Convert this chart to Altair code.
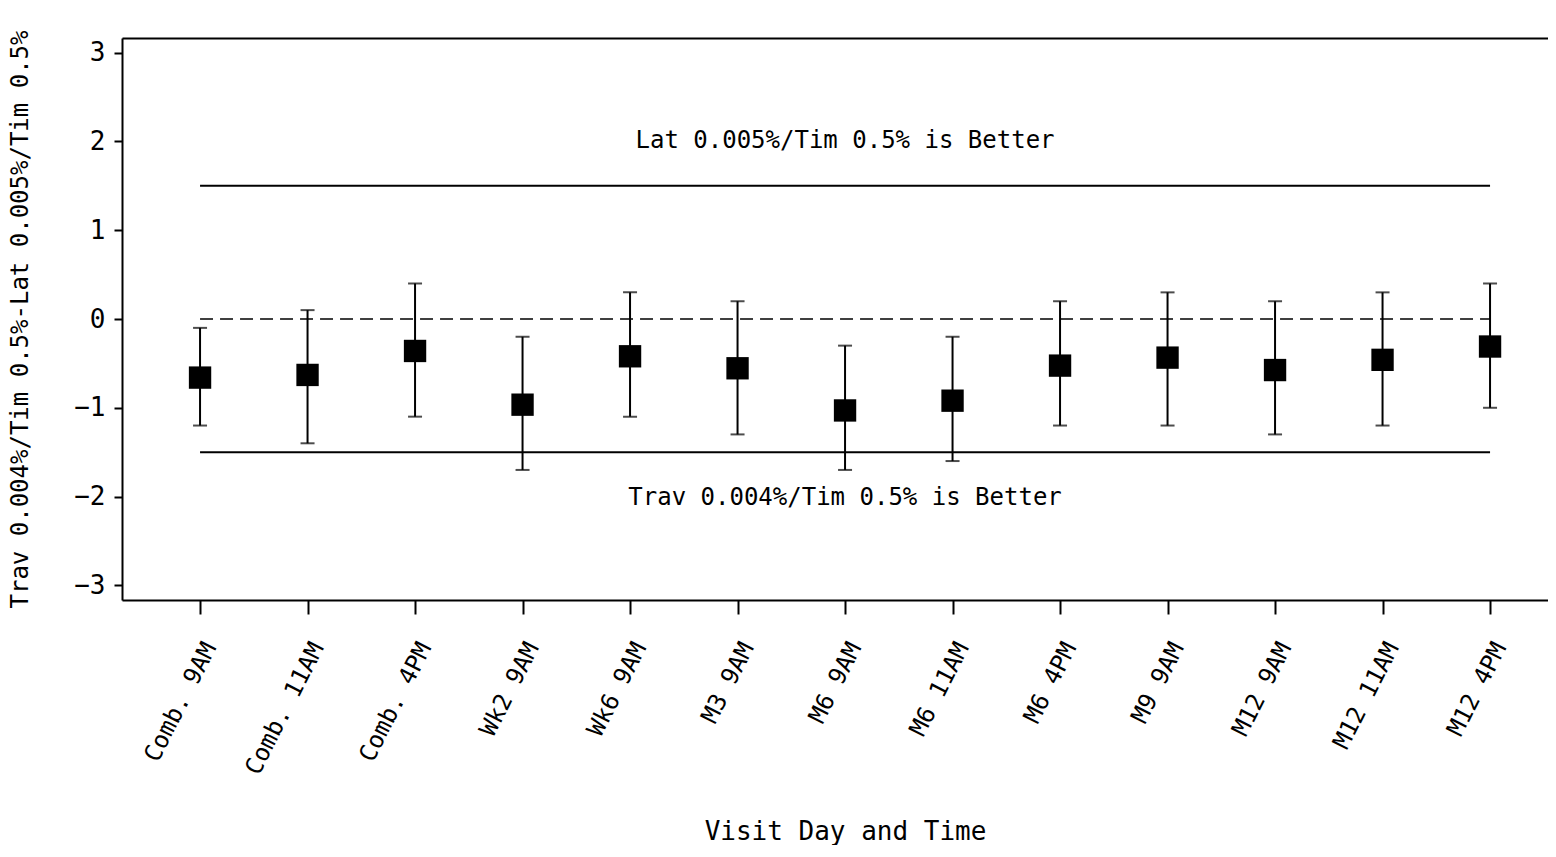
import json
import altair as alt
import pandas as pd

# ---- data ----
visit_labels = ["Comb. 9AM", "Comb. 11AM", "Comb. 4PM", "Wk2 9AM", "Wk6 9AM",
                "M3 9AM", "M6 9AM", "M6 11AM", "M6 4PM", "M9 9AM",
                "M12 9AM", "M12 11AM", "M12 4PM"]
estimates = [-0.66, -0.63, -0.36, -0.965, -0.42, -0.555, -1.03, -0.92,
             -0.525, -0.435, -0.575, -0.46, -0.31]
lower_ci = [-1.2, -1.4, -1.1, -1.7, -1.1, -1.3, -1.7, -1.6, -1.2, -1.2, -1.3, -1.2, -1.0]
upper_ci = [-0.1, 0.1, 0.4, -0.2, 0.3, 0.2, -0.3, -0.2, 0.2, 0.3, 0.2, 0.3, 0.4]

margin_upper = 1.5
margin_lower = -1.5
zero_line = 0.0
note_upper = "Lat 0.005%/Tim 0.5%  is Better"
note_lower = "Trav 0.004%/Tim 0.5% is Better"
note_upper_y = 1.93
note_lower_y = -2.09
y_ticks = [-3, -2, -1, 0, 1, 2, 3]
y_title = "Trav 0.004%/Tim 0.5%-Lat 0.005%/Tim 0.5%"
x_title = "Visit Day and Time"

idx = list(range(1, len(visit_labels) + 1))
df = pd.DataFrame({"idx": idx, "label": visit_labels, "est": estimates,
                   "lo": lower_ci, "hi": upper_ci})
ref_df = pd.DataFrame({"x": [idx[0]], "x2": [idx[-1]],
                       "up": [margin_upper], "dn": [margin_lower], "z": [zero_line]})
note_df = pd.DataFrame({"x": [idx[6], idx[6]], "y": [note_upper_y, note_lower_y],
                        "t": [note_upper, note_lower]})

FONT = "DejaVu Sans Mono"
W, H = 1426, 562
XDOM = [0.274, 0.274 + W / 107.5]
YDOM = [-3.165, 3.165]

xs = alt.Scale(domain=XDOM, nice=False, zero=False)
ys = alt.Scale(domain=YDOM, nice=False, zero=False)

label_expr = json.dumps(visit_labels) + "[datum.value - 1]"

x_bottom = alt.Axis(values=idx, labelExpr=label_expr, labelAngle=-63,
                    labelAlign="right", labelBaseline="middle",
                    labelFont=FONT, labelFontSize=24, labelColor="black",
                    labelOffset=10, labelPadding=30, tickSize=14, tickWidth=2,
                    tickColor="black", domainColor="black", domainWidth=2,
                    grid=False, title=x_title, titleFont=FONT, titleFontSize=26,
                    titleFontWeight="normal", titleColor="black",
                    titleX=723, titleY=239, titleAlign="center",
                    titleBaseline="alphabetic", labelOverlap=False)
x_top = alt.Axis(orient="top", labels=False, ticks=False, grid=False, title=None,
                 domainColor="black", domainWidth=2)
y_axis = alt.Axis(values=y_ticks, format="d", labelFont=FONT, labelFontSize=26,
                  labelColor="black", labelPadding=9, tickSize=8, tickWidth=2,
                  tickColor="black", domainColor="black", domainWidth=2,
                  grid=False, title=y_title, titleFont=FONT, titleFontSize=24,
                  titleFontWeight="normal", titleColor="black",
                  titleX=-90, titleAngle=-90, titleBaseline="bottom",
                  titleAlign="center")

base = alt.Chart(df)

err = base.mark_rule(color="black", strokeWidth=2).encode(
    x=alt.X("idx:Q", scale=xs, axis=x_bottom),
    y=alt.Y("lo:Q", scale=ys, axis=y_axis),
    y2="hi:Q",
)
cap_lo = base.mark_tick(color="black", orient="horizontal", size=14, thickness=2).encode(
    x=alt.X("idx:Q", scale=xs), y=alt.Y("lo:Q", scale=ys))
cap_hi = base.mark_tick(color="black", orient="horizontal", size=14, thickness=2).encode(
    x=alt.X("idx:Q", scale=xs), y=alt.Y("hi:Q", scale=ys))
pts = base.mark_square(color="black", size=500, opacity=1, filled=True).encode(
    x=alt.X("idx:Q", scale=xs), y=alt.Y("est:Q", scale=ys))

refs = alt.Chart(ref_df)
zero = refs.mark_rule(color="black", strokeWidth=1.5, strokeDash=[13, 7]).encode(
    x=alt.X("x:Q", scale=xs, axis=x_top), x2="x2:Q", y=alt.Y("z:Q", scale=ys))
up = refs.mark_rule(color="black", strokeWidth=2).encode(
    x=alt.X("x:Q", scale=xs), x2="x2:Q", y=alt.Y("up:Q", scale=ys))
dn = refs.mark_rule(color="black", strokeWidth=2).encode(
    x=alt.X("x:Q", scale=xs), x2="x2:Q", y=alt.Y("dn:Q", scale=ys))

notes = alt.Chart(note_df).mark_text(font=FONT, fontSize=24, color="black",
                                     align="center", baseline="alphabetic").encode(
    x=alt.X("x:Q", scale=xs), y=alt.Y("y:Q", scale=ys), text="t:N")

main = alt.layer(err, cap_lo, cap_hi, pts, up, dn, notes)
chart = alt.layer(main, zero).resolve_axis(x="independent").properties(
    width=W, height=H,
    autosize=alt.AutoSizeParams(type="none"),
    padding={"left": 114, "top": 30, "right": 0, "bottom": 245},
).configure_view(stroke=None).configure(background="white")

chart.save("out.html", embed_options={"renderer": "svg", "actions": False})
